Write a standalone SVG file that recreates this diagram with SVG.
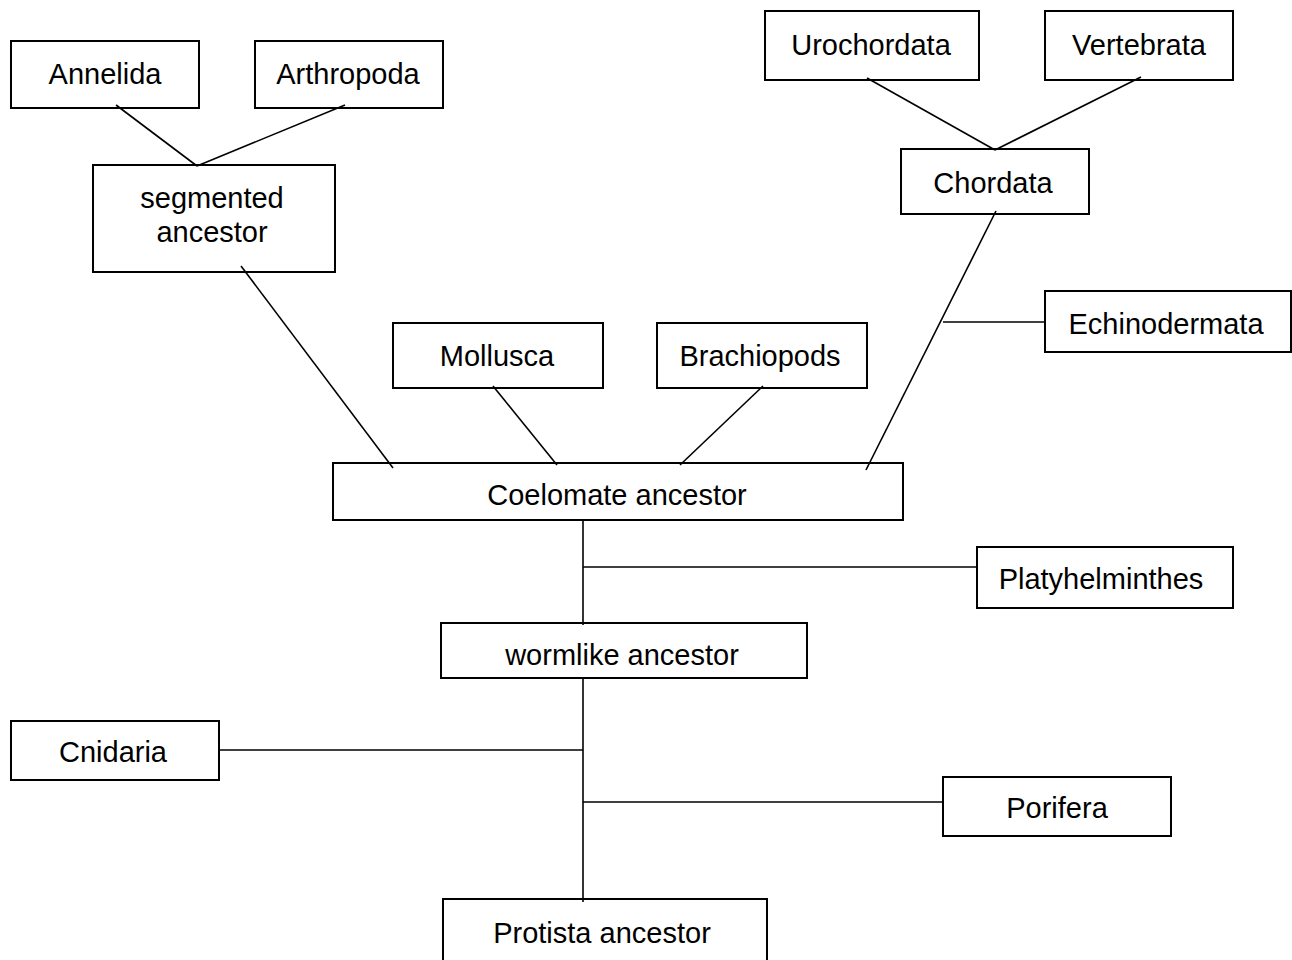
<svg xmlns="http://www.w3.org/2000/svg" width="1292" height="960" viewBox="0 0 1292 960">
<style>
rect{fill:#fff;stroke:#000;stroke-width:2}
text{font-family:"Liberation Sans",Arial,sans-serif;font-size:29px;fill:#000;text-anchor:middle}
#connectors line{stroke:#000;stroke-width:1.6}
</style>
<rect x="0" y="0" width="1292" height="960" style="stroke:none"/>
<g id="annelida"><rect x="11" y="41" width="188" height="67"/><text x="105" y="84">Annelida</text></g>
<g id="arthropoda"><rect x="255" y="41" width="188" height="67"/><text x="348" y="84">Arthropoda</text></g>
<g id="segmented"><rect x="93" y="165" width="242" height="107"/><text x="212" y="208">segmented</text><text x="212" y="242">ancestor</text></g>
<g id="urochordata"><rect x="765" y="11" width="214" height="69"/><text x="871" y="55">Urochordata</text></g>
<g id="vertebrata"><rect x="1045" y="11" width="188" height="69"/><text x="1139" y="55">Vertebrata</text></g>
<g id="chordata"><rect x="901" y="149" width="188" height="65"/><text x="993" y="193">Chordata</text></g>
<g id="echinodermata"><rect x="1045" y="291" width="246" height="61"/><text x="1166" y="334">Echinodermata</text></g>
<g id="mollusca"><rect x="393" y="323" width="210" height="65"/><text x="497" y="366">Mollusca</text></g>
<g id="brachiopods"><rect x="657" y="323" width="210" height="65"/><text x="760" y="366">Brachiopods</text></g>
<g id="coelomate"><rect x="333" y="463" width="570" height="57"/><text x="617" y="505">Coelomate ancestor</text></g>
<g id="platyhelminthes"><rect x="977" y="547" width="256" height="61"/><text x="1101" y="589">Platyhelminthes</text></g>
<g id="wormlike"><rect x="441" y="623" width="366" height="55"/><text x="622" y="665">wormlike ancestor</text></g>
<g id="cnidaria"><rect x="11" y="721" width="208" height="59"/><text x="113" y="762">Cnidaria</text></g>
<g id="porifera"><rect x="943" y="777" width="228" height="59"/><text x="1057" y="818">Porifera</text></g>
<g id="protista"><rect x="443" y="899" width="324" height="66"/><text x="602" y="943">Protista ancestor</text></g>
<g id="connectors">
<line x1="116" y1="105" x2="197" y2="166"/>
<line x1="345" y1="105" x2="197" y2="166"/>
<line x1="241" y1="266" x2="393" y2="468"/>
<line x1="867" y1="78" x2="995" y2="150"/>
<line x1="1141" y1="77" x2="995" y2="150"/>
<line x1="996" y1="211" x2="866" y2="470"/>
<line x1="943" y1="322" x2="1045" y2="322"/>
<line x1="493" y1="386" x2="557" y2="465"/>
<line x1="763" y1="386" x2="680" y2="465"/>
<line x1="583" y1="520" x2="583" y2="625"/>
<line x1="583" y1="567" x2="977" y2="567"/>
<line x1="583" y1="678" x2="583" y2="902"/>
<line x1="219" y1="750" x2="583" y2="750"/>
<line x1="583" y1="802" x2="943" y2="802"/>
</g>
</svg>
